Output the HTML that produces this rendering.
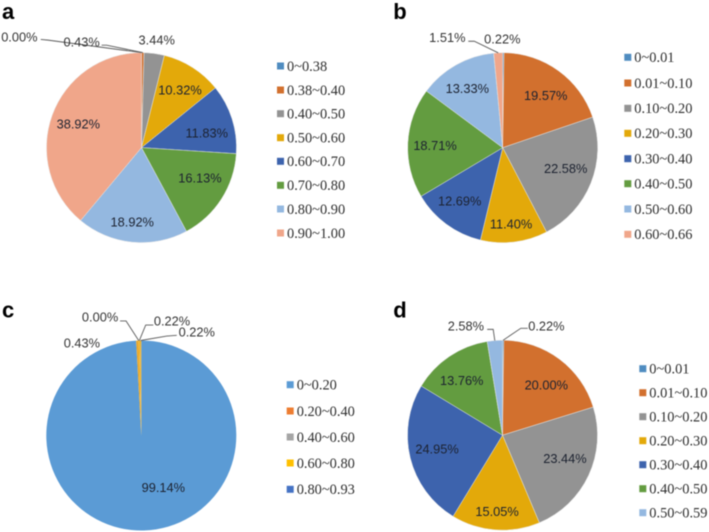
<!DOCTYPE html>
<html lang="en">
<head>
<meta charset="utf-8">
<title>Four pie charts</title>
<style>
html,body{margin:0;padding:0;background:#fff;width:709px;height:532px;overflow:hidden}
svg{display:block;filter:blur(0.4px)}
.pct{font:12.8px "Liberation Sans",sans-serif;fill:#333;text-anchor:middle}
.pct.inside{fill:#1c2230}
.leg{font:14.4px "Liberation Serif",serif;fill:#2e2e2e}
.letter{font:bold 22px "Liberation Sans",sans-serif;fill:#000}
</style>
</head>
<body>
<svg id="figure" width="709" height="532" viewBox="0 0 709 532" xmlns="http://www.w3.org/2000/svg">
  <text class="letter" x="2" y="19">a</text>
  <text class="letter" x="393.3" y="19">b</text>
  <text class="letter" x="2" y="317.7">c</text>
  <text class="letter" x="393.3" y="317.7">d</text>
</svg>
<script>
// ---- data ----
const categoriesA = ["0~0.38","0.38~0.40","0.40~0.50","0.50~0.60","0.60~0.70","0.70~0.80","0.80~0.90","0.90~1.00"];
const valuesA = [0.00,0.43,3.44,10.32,11.83,16.13,18.92,38.92];
const categoriesB = ["0~0.01","0.01~0.10","0.10~0.20","0.20~0.30","0.30~0.40","0.40~0.50","0.50~0.60","0.60~0.66"];
const valuesB = [0.22,19.57,22.58,11.40,12.69,18.71,13.33,1.51];
const categoriesC = ["0~0.20","0.20~0.40","0.40~0.60","0.60~0.80","0.80~0.93"];
const valuesC = [99.14,0.43,0.00,0.22,0.22];
const categoriesD = ["0~0.01","0.01~0.10","0.10~0.20","0.20~0.30","0.30~0.40","0.40~0.50","0.50~0.59"];
const valuesD = [0.22,20.00,23.44,15.05,24.95,13.76,2.58];

// ---- layout and style ----
const paletteMuted = ["#4f8cc0","#d2702e","#939393","#e3a90a","#3d63ad","#639c40","#94b8e0","#f0a68a"];
const paletteBright = ["#5b9bd5","#ed7d31","#a5a5a5","#ffc000","#4472c4"];
const sliceColorsC = ["#5b9bd5","#eaa92e","#a5a5a5","#f0b428","#e0b040"];

const panels = [
  {id:"a", cats:categoriesA, vals:valuesA, cx:141.5, cy:147.6, r:95, colors:paletteMuted, fills:paletteMuted, edge:0.5,
   place:[[164.9,-47.8],[121.5,-30.3],[108.6,0.3],[69.2,1.3],[66.9,4.8],[65.8,-5.4],[74.8,1.3],[67.4,0.5]],
   leaders:{0:[21.4,2.6,28.7,3.3],1:[20,3.3,25,3.3]},
   legX:277, legY:[66,90,113.7,137.7,161.3,185.3,209,233]},
  {id:"b", cats:categoriesB, vals:valuesB, cx:502.7, cy:147.7, r:95, colors:paletteMuted, fills:paletteMuted, edge:0.5,
   place:[[108.7,-0.6],[67.5,3.6],[66.3,-3.8],[76.8,0.7],[68.5,2.5],[67.7,-1.2],[69.1,-1.4],[123.2,-24]],
   leaders:{7:[21,3.6,27,3.6]},
   legX:624.3, legY:[57.3,83,108.3,133.3,158.7,183.7,209,234.3]},
  {id:"c", cats:categoriesC, vals:valuesC, cx:141.3, cy:435.5, r:95, colors:paletteBright, fills:sliceColorsC, edge:0,
   place:[[56.3,-21.5],[110.1,-30.3],[125.5,-17.6],[118.5,16.2],[117.4,28.6]],
   leaders:{2:[20,4,26,4],3:[-18.7,4,-26.3,4],4:[-20,3.3,-30,4]},
   legX:286.7, legY:[384.7,411,437,463,489.3]},
  {id:"d", cats:categoriesD, vals:valuesD, cx:502.5, cy:435.2, r:95, colors:paletteMuted, fills:paletteMuted, edge:0.5,
   place:[[117.7,21.5],[66.6,4.3],[66.6,-4.7],[76.7,-0.2],[66.9,1.8],[68.1,-2.7],[115.1,-13.9]],
   leaders:{0:[-18.6,2.3,-25.6,2.3],6:[21.3,3.3,27.3,3.3]},
   legX:639.3, legY:[368.7,392.7,416.7,440.7,464.7,488.7,512.7]}
];

// ---- drawing ----
const svg = document.getElementById("figure");
const NS = "http://www.w3.org/2000/svg";

function polar(p, radius, deg) {
  const a = deg * Math.PI / 180;
  return [p.cx + radius * Math.sin(a), p.cy - radius * Math.cos(a)];
}
function angleScale(vals) {
  const total = vals.reduce(function (s, v) { return s + v; }, 0);
  return function (v) { return v / total * 360; };
}
function slicePath(p, a0, a1) {
  const s = polar(p, p.r, a0), e = polar(p, p.r, a1);
  const large = a1 - a0 > 180 ? 1 : 0;
  return "M" + p.cx + " " + p.cy + "L" + s[0] + " " + s[1] + "A" + p.r + " " + p.r + " 0 " + large + " 1 " + e[0] + " " + e[1] + "Z";
}

panels.forEach(function (p) {
  const group = document.createElementNS(NS, "g");
  
  
  svg.appendChild(group);

  const toDeg = angleScale(p.vals);
  const mids = [];
  let cum = 0;

  p.vals.forEach(function (v, i) {
    const a0 = toDeg(cum), a1 = toDeg(cum + v);
    mids.push((a0 + a1) / 2);
    cum += v;
    const slice = document.createElementNS(NS, "path");
    slice.setAttribute("d", slicePath(p, a0, a1));
    slice.setAttribute("fill", p.fills[i]);
    if (p.edge) {
      slice.setAttribute("stroke", "#e8e8e8");
      slice.setAttribute("stroke-width", p.edge);
    }
    
    
    group.appendChild(slice);
  });

  p.vals.forEach(function (v, i) {
    const pos = polar(p, p.place[i][0], mids[i] + p.place[i][1]);
    const stub = p.leaders[i];
    if (stub) {
      const tip = polar(p, p.r, mids[i]);
      const leader = document.createElementNS(NS, "polyline");
      leader.setAttribute("points", [pos[0] + stub[0], pos[1] + stub[1], pos[0] + stub[2], pos[1] + stub[3], tip[0], tip[1]].join(" "));
      leader.setAttribute("fill", "none");
      leader.setAttribute("stroke", "#5a5a5a");
      leader.setAttribute("stroke-width", "0.9");
      
      
      group.appendChild(leader);
    }
    const label = document.createElementNS(NS, "text");
    label.setAttribute("class", p.place[i][0] < 95 ? "pct inside" : "pct");
    label.setAttribute("x", pos[0]);
    label.setAttribute("y", pos[1] + 4.5);
    label.textContent = v.toFixed(2) + "%";
    
    
    group.appendChild(label);
  });

  p.cats.forEach(function (c, i) {
    const swatch = document.createElementNS(NS, "rect");
    swatch.setAttribute("x", p.legX);
    swatch.setAttribute("y", p.legY[i] - 3.5);
    swatch.setAttribute("width", 7);
    swatch.setAttribute("height", 7);
    swatch.setAttribute("fill", p.colors[i]);
    
    
    group.appendChild(swatch);
    const text = document.createElementNS(NS, "text");
    text.setAttribute("class", "leg");
    text.setAttribute("x", p.legX + 10);
    text.setAttribute("y", p.legY[i] + 4.8);
    text.textContent = c;
    
    
    group.appendChild(text);
  });
});
</script>
</body>
</html>
